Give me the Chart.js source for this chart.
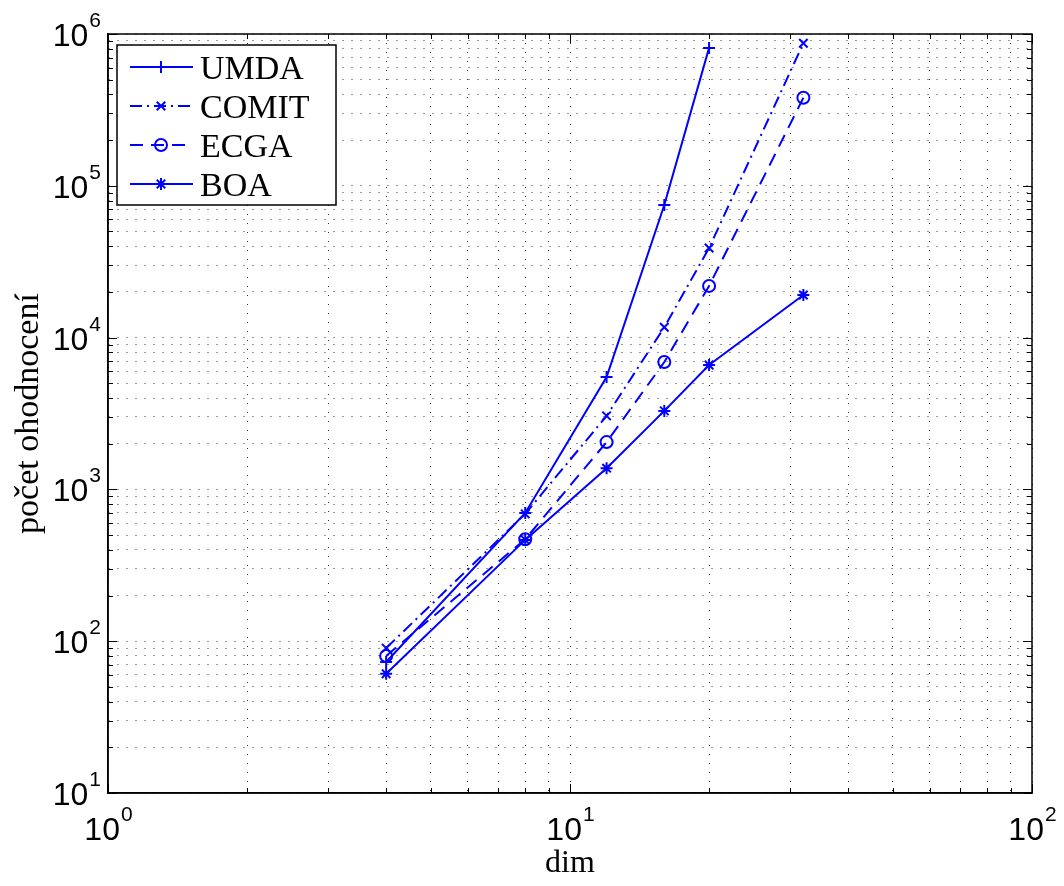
<!DOCTYPE html>
<html>
<head>
<meta charset="utf-8">
<title>počet ohodnocení</title>
<script src="https://cdn.jsdelivr.net/npm/chart.js@4.4.1/dist/chart.umd.min.js"></script>
<style>
  html, body { margin: 0; padding: 0; background: #fff; }
  #wrap { width: 1064px; height: 886px; }
</style>
</head>
<body>
<div id="wrap"><canvas id="graf" width="1064" height="886"></canvas></div>
<script>
(() => {
  // hodnoty
  const dims  = [4, 8, 12, 16, 20, 32];
  const umda  = [73, 700, 5500, 74700, 810000];
  const comit = [90, 690, 3050, 11700, 38900, 870000];
  const ecga  = [80, 470, 2050, 6900, 21900, 380000];
  const boa   = [61, 465, 1380, 3290, 6600, 19100];
  const names = ['UMDA', 'COMIT', 'ECGA', 'BOA'];

  const xTickExps = [0, 1, 2];
  const yTickExps = [1, 2, 3, 4, 5, 6];

  const BLUE = '#0000ff';
  const SANS = '"Liberation Sans", Arial, sans-serif';
  const SERIF = '"Liberation Serif", "Times New Roman", serif';

  const pts = (vals) => vals.map((v, i) => ({ x: dims[i], y: v }));
  const isPow10 = (v) => Math.abs(Math.log10(v) - Math.round(Math.log10(v))) < 1e-9;

  // tiky 1..9 v kazde dekade
  function logTicks(exps){
    const out = [];
    for (let e = exps[0]; e < exps[exps.length - 1]; e++){
      for (let m = 1; m <= 9; m++) out.push(m * Math.pow(10, e));
    }
    out.push(Math.pow(10, exps[exps.length - 1]));
    return out.map(v => ({ value: v, major: isPow10(v) }));
  }

  function serie(label, vals, dash, style){
    return {
      label, data: pts(vals),
      borderColor: BLUE, backgroundColor: BLUE, borderWidth: 2,
      borderDash: dash, tension: 0, fill: false,
      pointStyle: style, pointRadius: 6, pointHoverRadius: 6,
      pointBorderColor: BLUE, pointBackgroundColor: 'rgba(0,0,0,0)', pointBorderWidth: 2
    };
  }

  const datasets = [
    serie(names[0], umda, [], 'cross'),
    serie(names[1], comit, [12, 5, 2, 5], 'crossRot'),
    serie(names[2], ecga, [13, 8], 'circle'),
    serie(names[3], boa, [], 'star')
  ];

  function pow10(ctx, e, x, y, align){
    // "10" + exponent; x = stred (center) nebo pravy okraj (right)
    ctx.font = '32px ' + SANS;
    const wb = ctx.measureText('10').width;
    ctx.font = '21px ' + SANS;
    const we = ctx.measureText(String(e)).width;
    const x0 = align === 'center' ? x - (wb + we) / 2 : x - (wb + we);
    ctx.textAlign = 'left';
    ctx.textBaseline = 'alphabetic';
    ctx.font = '32px ' + SANS;
    ctx.fillText('10', x0, y);
    ctx.font = '21px ' + SANS;
    ctx.fillText(String(e), x0 + wb + 1, y - 19);
  }

  const ramecek = {
    id: 'ramecek',
    afterDraw(chart){
      const { ctx, chartArea: a, scales: { x, y } } = chart;
      ctx.save();
      ctx.setLineDash([]);

      // vnitrni tiky na vsech ctyrech stranach
      ctx.strokeStyle = '#000';
      ctx.lineWidth = 1;
      ctx.beginPath();
      x.ticks.forEach(t => {
        const px = Math.round(x.getPixelForValue(t.value)) + 0.5;
        const len = t.major ? 9 : 5;
        ctx.moveTo(px, a.bottom); ctx.lineTo(px, a.bottom - len);
        ctx.moveTo(px, a.top); ctx.lineTo(px, a.top + len);
      });
      y.ticks.forEach(t => {
        const py = Math.round(y.getPixelForValue(t.value)) + 0.5;
        const len = t.major ? 9 : 5;
        ctx.moveTo(a.left, py); ctx.lineTo(a.left + len, py);
        ctx.moveTo(a.right, py); ctx.lineTo(a.right - len, py);
      });
      ctx.stroke();

      ctx.lineWidth = 1.5;
      ctx.strokeRect(a.left, a.top, a.right - a.left, a.bottom - a.top);

      // popisky tiku
      ctx.fillStyle = '#000';
      xTickExps.forEach(e => pow10(ctx, e, x.getPixelForValue(Math.pow(10, e)), a.bottom + 47, 'center'));
      yTickExps.forEach(e => pow10(ctx, e, a.left - 8, y.getPixelForValue(Math.pow(10, e)) + 12, 'right'));

      // legenda
      const lx = a.left + 9, ly = a.top + 11;
      ctx.fillStyle = '#fff';
      ctx.fillRect(lx, ly, 219, 160);
      ctx.strokeStyle = '#000';
      ctx.lineWidth = 1.5;
      ctx.strokeRect(lx, ly, 219, 160);
      chart.data.datasets.forEach((ds, i) => {
        const cy = ly + 22 + i * 39;
        ctx.strokeStyle = ds.borderColor;
        ctx.lineWidth = ds.borderWidth;
        ctx.setLineDash(ds.borderDash || []);
        ctx.beginPath();
        ctx.moveTo(lx + 13, cy); ctx.lineTo(lx + 76, cy);
        ctx.stroke();
        ctx.setLineDash([]);
        ctx.fillStyle = 'rgba(0,0,0,0)';
        ctx.lineWidth = ds.pointBorderWidth;
        Chart.helpers.drawPoint(ctx, { pointStyle: ds.pointStyle, radius: ds.pointRadius, rotation: 0, borderWidth: ds.pointBorderWidth }, lx + 44, cy);
        ctx.fillStyle = '#000';
        ctx.font = '34px ' + SERIF;
        ctx.textAlign = 'left';
        ctx.textBaseline = 'alphabetic';
        ctx.fillText(ds.label, lx + 83, cy + 12);
      });
      ctx.restore();
    }
  };

  const osa = (exps) => ({
    type: 'logarithmic',
    min: Math.pow(10, exps[0]),
    max: Math.pow(10, exps[exps.length - 1]),
    afterBuildTicks: s => { s.ticks = logTicks(exps); },
    ticks: { display: false },
    grid: { color: '#333', lineWidth: 1, drawTicks: false },
    border: { display: true, color: '#000', width: 1.5, dash: [1, 8] }
  });

  const xOsa = Object.assign(osa(xTickExps), {
    afterFit: s => { s.height = 93; },
    title: { display: true, text: 'dim', color: '#000', font: { family: SERIF, size: 32 }, padding: { top: 0, bottom: 3 } }
  });
  const yOsa = Object.assign(osa(yTickExps), {
    afterFit: s => { s.width = 108; },
    title: { display: true, text: 'počet ohodnocení', color: '#000', font: { family: SERIF, size: 34 }, padding: { top: 9, bottom: 0 } }
  });

  new Chart(document.getElementById('graf').getContext('2d'), {
    type: 'line',
    data: { datasets },
    options: {
      responsive: false,
      animation: false,
      devicePixelRatio: 1,
      layout: { padding: { top: 34, right: 32, bottom: 0, left: 0 } },
      plugins: { legend: { display: false }, tooltip: { enabled: false } },
      scales: { x: xOsa, y: yOsa }
    },
    plugins: [ramecek]
  });
})();
</script>
</body>
</html>
